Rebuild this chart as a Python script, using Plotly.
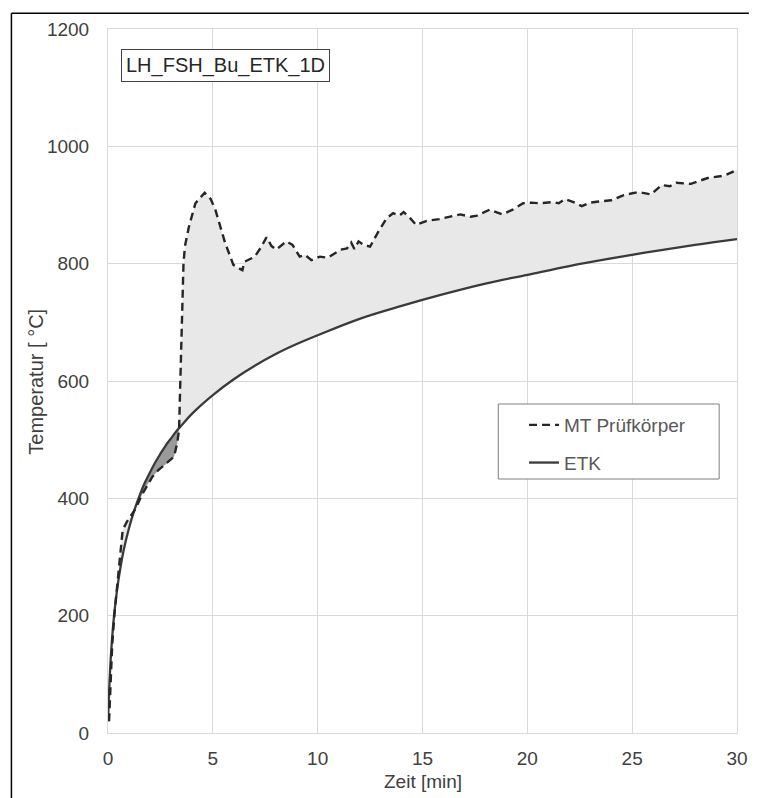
import numpy as np
import plotly.graph_objects as go

# ---------------- data ----------------
etk_t = [0.0, 0.05, 0.1, 0.15, 0.25, 0.35, 0.5, 0.75, 1.0, 1.25, 1.5, 1.75, 2.0, 2.25, 2.5,
         2.75, 3.0, 3.25, 3.5, 4.0, 5.0, 6.0, 7.0, 8.0, 9.0, 10.0, 12.0, 14.0, 16.0, 18.0,
         20.0, 22.0, 24.0, 26.0, 28.0, 30.0]
etk_T = [20, 70, 108, 138, 185, 220, 261, 312, 349, 379, 404, 426, 444, 461, 476,
         490, 502, 514, 524, 544, 576, 603, 626, 646, 663, 678, 706, 728, 748, 766,
         781, 796, 809, 821, 832, 842]

mt_t = [0.05, 0.2, 0.31, 0.47, 0.6, 0.7, 0.9, 1.1, 1.33, 1.6, 1.9, 2.12, 2.4, 2.6, 2.9,
        3.15, 3.3, 3.39, 3.45, 3.52, 3.6, 3.67, 3.86, 4.17, 4.61, 4.9, 5.12, 5.59, 5.98,
        6.2, 6.41, 6.5, 7.0, 7.3, 7.56, 7.8, 8.03, 8.5, 8.8, 9.14, 9.4, 9.7, 10.1, 10.48,
        10.7, 11.1, 11.4, 11.6, 11.75, 11.95, 12.2, 12.5, 12.9, 13.3, 13.6, 13.9,
        14.1, 14.4, 14.7, 15.2, 15.8, 16.3, 16.8, 17.3, 17.6, 18.2, 18.8, 19.3, 19.8,
        20.2, 20.6, 21.2, 21.5, 21.8, 22.2, 22.6, 23.0, 23.4, 24.0, 24.6, 25.3, 25.9,
        26.4, 26.8, 27.1, 27.8, 28.3, 28.6, 29.4, 29.8, 30.0]
mt_T = [20, 150, 204, 261, 320, 346, 360, 370, 383, 405, 425, 437, 448, 454, 462,
        471, 494, 517, 600, 720, 800, 830, 863, 903, 921, 910, 892, 835, 798,
        793, 789, 803, 812, 828, 845, 830, 824, 838, 832, 812, 815, 806, 812, 810,
        815, 824, 826, 836, 825, 838, 832, 829, 855, 878, 886, 882,
        888, 878, 866, 873, 876, 880, 884, 880, 882, 892, 884, 892, 903,
        904, 903, 905, 903, 910, 905, 898, 904, 906, 908, 917, 922, 918,
        934, 932, 938, 936, 942, 946, 950, 956, 960]

x_ticks = [0, 5, 10, 15, 20, 25, 30]
y_ticks = [0, 200, 400, 600, 800, 1000, 1200]

# ---------------- geometry helpers ----------------
W, H = 760, 798
ML, MR, MT_, MB = 108, 17, 29, 65
PW, PH = W - ML - MR, H - MT_ - MB


def px_x(p):
    return (p - ML) / PW


def px_y(p):
    return (H - MB - p) / PH


etk_t_a, etk_T_a = np.array(etk_t), np.array(etk_T)
mt_t_a, mt_T_a = np.array(mt_t), np.array(mt_T)

fig = go.Figure()

# light fill between ETK and measurement
fig.add_trace(go.Scatter(x=etk_t, y=etk_T, mode="lines", line=dict(width=0, shape="spline"),
                         showlegend=False, hoverinfo="skip"))
fig.add_trace(go.Scatter(x=mt_t, y=mt_T, mode="lines", line=dict(width=0),
                         fill="tonexty", fillcolor="#e8e8e8", showlegend=False, hoverinfo="skip"))

# dark fill where measurement lies below ETK
m_e = (etk_t_a >= 1.25) & (etk_t_a <= 3.4)
m_m = (mt_t_a >= 1.33) & (mt_t_a <= 3.39)
poly_x = list(mt_t_a[m_m][:1]) + list(etk_t_a[m_e]) + list(mt_t_a[m_m][::-1])
poly_y = list(mt_T_a[m_m][:1]) + list(etk_T_a[m_e]) + list(mt_T_a[m_m][::-1])
fig.add_trace(go.Scatter(x=poly_x, y=poly_y, mode="lines", line=dict(width=0),
                         fill="toself", fillcolor="#9a9a9a", showlegend=False, hoverinfo="skip"))

# lines
fig.add_trace(go.Scatter(x=etk_t, y=etk_T, mode="lines", name="ETK",
                         line=dict(color="#3a3a3a", width=2.3, shape="spline"),
                         legendrank=2, legendgroup="b"))
fig.add_trace(go.Scatter(x=mt_t, y=mt_T, mode="lines", name="MT Prüfkörper",
                         line=dict(color="#262626", width=2.4, dash="8px,5px"),
                         legendrank=1, legendgroup="a"))

font_fam = "Arial, Liberation Sans, sans-serif"

fig.update_layout(
    width=W, height=H,
    margin=dict(l=ML, r=MR, t=MT_, b=MB),
    paper_bgcolor="white", plot_bgcolor="white",
    font=dict(family=font_fam, size=19, color="#404040"),
    showlegend=True,
    legend=dict(x=px_x(528), y=px_y(406), xanchor="left", yanchor="top",
                bgcolor="rgba(0,0,0,0)", borderwidth=0, traceorder="grouped",
                tracegroupgap=10, font=dict(size=19, color="#595959")),
    xaxis=dict(range=[0, 30], tickvals=x_ticks, showgrid=True, gridcolor="#d9d9d9",
               gridwidth=1, zeroline=False, showline=True, linecolor="#d9d9d9",
               mirror=True, ticks="", ticklabelstandoff=8,
               tickfont=dict(size=19, color="#404040")),
    yaxis=dict(range=[0, 1200], tickvals=y_ticks, showgrid=True, gridcolor="#d9d9d9",
               gridwidth=1, zeroline=False, showline=True, linecolor="#d9d9d9",
               mirror=True, ticks="", ticklabelstandoff=14,
               tickfont=dict(size=19, color="#404040")),
)

shapes = [
    # outer frame (left and top edges)
    dict(type="line", xref="paper", yref="paper", x0=px_x(10.5), x1=px_x(10.5),
         y0=px_y(13.3), y1=px_y(800), line=dict(color="black", width=1.5)),
    dict(type="line", xref="paper", yref="paper", x0=px_x(10.5), x1=px_x(755),
         y0=px_y(13.3), y1=px_y(13.3), line=dict(color="black", width=1.5)),
    # legend frame
    dict(type="rect", xref="paper", yref="paper", x0=px_x(502), x1=px_x(725),
         y0=px_y(404), y1=px_y(479), line=dict(color="#7f7f7f", width=1),
         fillcolor="white", layer="above"),
]
fig.update_layout(shapes=shapes)

annotations = [
    dict(text="LH_FSH_Bu_ETK_1D", xref="paper", yref="paper", x=px_x(121), y=px_y(49),
         xanchor="left", yanchor="top", showarrow=False, bordercolor="#404040",
         borderwidth=1, borderpad=4, bgcolor="white",
         font=dict(size=20, color="#262626")),
    dict(text="Zeit [min]", xref="paper", yref="paper", x=0.5, y=px_y(781),
         xanchor="center", yanchor="middle", showarrow=False,
         font=dict(size=19, color="#404040")),
    dict(text="Temperatur [ °C]", xref="paper", yref="paper", x=px_x(35), y=px_y(382),
         xanchor="center", yanchor="middle", showarrow=False, textangle=-90,
         font=dict(size=20, color="#404040")),
]
fig.update_layout(annotations=annotations)

fig.write_html("out.html")
